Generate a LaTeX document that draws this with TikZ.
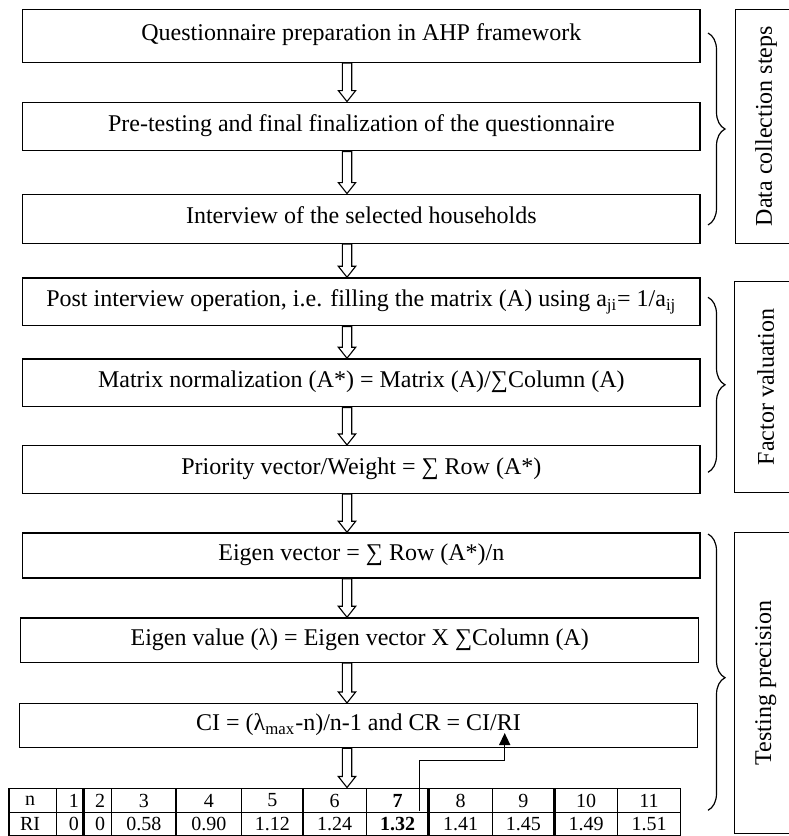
\documentclass[tikz,border=0pt]{standalone}
\usepackage{fontspec}
\setmainfont{Liberation Serif}
\usetikzlibrary{decorations.pathreplacing,arrows.meta,calc}
\tikzset{
 box/.style={draw, line width=0.75bp, inner sep=0pt, text height=7.5bp, text depth=2.5bp, font=\fontsize{12bp}{14bp}\selectfont},
 sidebox/.style={draw, line width=0.75bp, inner sep=0pt, rotate=90, font=\fontsize{12bp}{14bp}\selectfont},
 harrowst/.style={draw, fill=white, line width=0.55bp, line join=miter},
 brc/.style={decorate, decoration={brace, amplitude=8.5bp}, line width=0.6bp},
 cell/.style={inner sep=0pt, font=\fontsize{10bp}{12bp}\selectfont},
 gridln/.style={line width=0.7bp},
 thickgridln/.style={line width=1.3bp},
 conn/.style={line width=0.75bp, -{Triangle[length=6bp,width=5.5bp]}}
}
\newcommand\harrow[2]{\draw[harrowst] let \p1=(ax |- #1.south), \p2=(ax |- #2.north) in
 (\x1-2.35bp,\y1) -- (\x1+2.35bp,\y1) -- (\x1+2.35bp,\y2+5.5bp) -- (\x1+4.35bp,\y2+5.5bp)
 -- (\x2,\y2) -- (\x1-4.35bp,\y2+5.5bp) -- (\x1-2.35bp,\y2+5.5bp) -- cycle;}
\begin{document}
\begin{tikzpicture}[x=0.5bp,y=-0.5bp]
\useasboundingbox (0,0) rectangle (789,836);
\coordinate (ax) at (347,0);
% main boxes
\node[box, minimum width=338.65bp, minimum height=26.5bp] (b1) at (361.35,35.8) {Questionnaire preparation in AHP framework};
\node[box, minimum width=338.65bp, minimum height=24.2bp] (b2) at (361.35,126.5) {Pre-testing and final finalization of the questionnaire};
\node[box, minimum width=338.65bp, minimum height=24.5bp] (b3) at (361.35,218.8) {Interview of the selected households};
\node[box, minimum width=338.65bp, minimum height=23.85bp] (b4) at (361.35,301.85) {Post interview operation, i.e. filling the matrix (A) using a\textsubscript{ji}= 1/a\textsubscript{ij}};
\node[box, minimum width=338.65bp, minimum height=23.85bp] (b5) at (361.35,382.85) {Matrix normalization (A*) = Matrix (A)/∑Column (A)};
\node[box, minimum width=338.65bp, minimum height=23.8bp] (b6) at (361.35,469.5) {Priority vector/Weight = ∑ Row (A*)};
\node[box, minimum width=338.65bp, minimum height=22.5bp] (b7) at (361.35,555.5) {Eigen vector = ∑ Row (A*)/n};
\node[box, minimum width=339bp, minimum height=22.15bp] (b8) at (359.7,640.15) {Eigen value (λ) = Eigen vector X ∑Column (A)};
\node[box, minimum width=339.2bp, minimum height=21.9bp] (b9) at (358.5,725.6) {CI = (λ\textsubscript{max}-n)/n-1 and CR = CI/RI};
% side boxes
\node[sidebox, minimum width=117bp, minimum height=30.85bp] (s1) at (766.15,126.3) {Data collection steps};
\node[sidebox, minimum width=105.3bp, minimum height=31.35bp] (s2) at (765.65,387) {Factor valuation};
\node[sidebox, minimum width=150.7bp, minimum height=31.35bp] (s3) at (765.65,683) {Testing precision};
% braces
\coordinate (br1a) at (708,33); \coordinate (br1b) at (708,225);
\coordinate (br2a) at (708,297.3); \coordinate (br2b) at (708,472.3);
\coordinate (br3a) at (708,534); \coordinate (br3b) at (708,810.3);
\draw[brc] (br1a) -- (br1b);
\draw[brc] (br2a) -- (br2b);
\draw[brc, decoration={aspect=0.52}] (br3a) -- (br3b);
% table
\node[draw, line width=0.8bp, inner sep=0pt, minimum width=335.5bp, minimum height=23.85bp] (tab) at (344.8,812.15) {};
\draw[gridln] (9.3,812.7) -- (680.3,812.7);
\foreach \xx in {56.7,111.7,176,241.7,303,366.3,492.3,617.7}
  \draw[gridln] (\xx,788.3) -- (\xx,836);
\foreach \xx in {83.3,428.7,554.3}
  \draw[thickgridln] (\xx,788.3) -- (\xx,836);
\foreach \nm/\xx/\ta/\tb in {n/30/n/RI, c1/74/1/0, c2/100/2/0, c3/143.9/3/0.58, c4/208.9/4/0.90, c5/272.4/5/1.12, c6/334.7/6/1.24, c8/460.5/8/1.41, c9/523.3/9/1.45, c10/586/10/1.49, c11/649/11/1.51}{
  \node[cell] (t-\nm) at (\xx,800.5) {\ta};
  \node[cell] (r-\nm) at (\xx,824.3) {\tb};
}
\node[cell, font=\fontsize{10bp}{12bp}\selectfont\bfseries] (t-c7) at (397.5,800.5) {7};
\node[cell, font=\fontsize{10bp}{12bp}\selectfont\bfseries] (r-c7) at (397.5,824.3) {1.32};
% hollow arrows
\harrow{b1}{b2}
\harrow{b2}{b3}
\harrow{b3}{b4}
\harrow{b4}{b5}
\harrow{b5}{b6}
\harrow{b6}{b7}
\harrow{b7}{b8}
\harrow{b8}{b9}
\harrow{b9}{tab}
% connector from RI value back to CR
\coordinate (k0) at (419.7,810.7);
\coordinate (kt) at (504.7,760.7);
\coordinate (kend) at (504.7,733);
\draw[conn] (k0) |- (kt) -- (kend);
\end{tikzpicture}
\end{document}
